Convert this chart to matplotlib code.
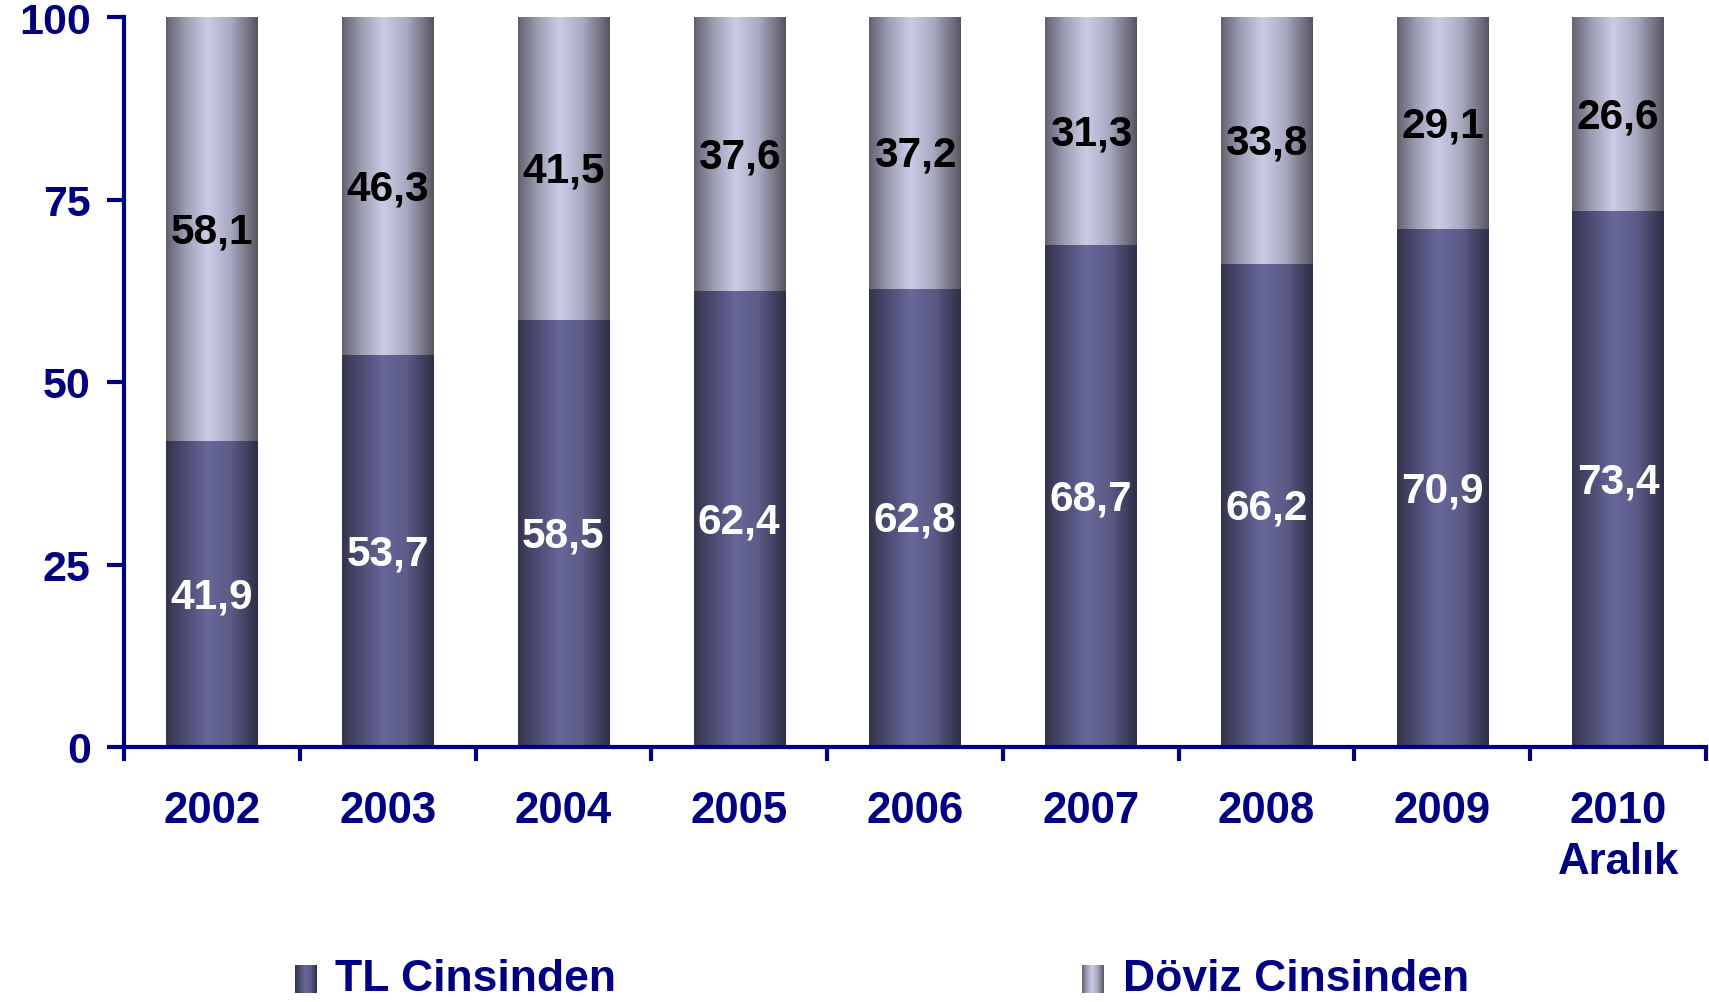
import numpy as np
import matplotlib
matplotlib.use("Agg")
import matplotlib.pyplot as plt
from matplotlib.colors import LinearSegmentedColormap

categories = ["2002", "2003", "2004", "2005", "2006", "2007", "2008", "2009", "2010\nAralık"]
tl_values = [41.9, 53.7, 58.5, 62.4, 62.8, 68.7, 66.2, 70.9, 73.4]
doviz_values = [58.1, 46.3, 41.5, 37.6, 37.2, 31.3, 33.8, 29.1, 26.6]
series_names = ["TL Cinsinden", "Döviz Cinsinden"]
yticks = [0, 25, 50, 75, 100]

NAVY = "#000080"
plt.rcParams['font.family'] = ['Liberation Sans', 'DejaVu Sans']
plt.rcParams['font.weight'] = 'bold'

cmap_tl = LinearSegmentedColormap.from_list(
    "tl", [(0.0, "#34344e"), (0.15, "#45456a"), (0.45, "#67679a"), (0.7, "#5c5c88"), (1.0, "#2e2e46")])
cmap_dv = LinearSegmentedColormap.from_list(
    "dv", [(0.0, "#62626f"), (0.2, "#9a9ab0"), (0.45, "#cccce8"), (0.7, "#a9a9c2"), (1.0, "#565662")])

fig = plt.figure(figsize=(17.09, 10.03), dpi=100)
ax = fig.add_axes([124/1709, 1-748/1003, (1706-124)/1709, (748-18)/1003])

x = np.arange(len(categories))
w = 0.52
b1 = ax.bar(x, tl_values, width=w, color="none", zorder=2)
b2 = ax.bar(x, doviz_values, bottom=tl_values, width=w, color="none", zorder=2)

grad = np.linspace(0, 1, 256).reshape(1, -1)
for bars, cm in ((b1, cmap_tl), (b2, cmap_dv)):
    for p in bars:
        x0, y0 = p.get_x(), p.get_y()
        im = ax.imshow(grad, cmap=cm, aspect='auto', interpolation='bicubic',
                       extent=(x0, x0 + p.get_width(), y0, y0 + p.get_height()), zorder=2)
        im.set_clip_path(p)

for i in range(len(categories)):
    ax.text(x[i], tl_values[i] / 2 - 0.3, f"{tl_values[i]:.1f}".replace(".", ","),
            ha='center', va='center', color='white', fontsize=30.5, fontweight='bold', zorder=3)
    ax.text(x[i], tl_values[i] + doviz_values[i] / 2 - 0.3, f"{doviz_values[i]:.1f}".replace(".", ","),
            ha='center', va='center', color='black', fontsize=30.5, fontweight='bold', zorder=3)

ax.set_xlim(-0.5, len(categories) - 0.5)
ax.set_ylim(0, 100)
ax.set_yticks(yticks)
ax.set_yticklabels([str(v) for v in yticks])
ax.set_xticks(np.arange(len(categories) + 1) - 0.5)
ax.set_xticklabels([])
ax.set_xticks(x, minor=True)
ax.set_xticklabels(categories, minor=True, fontsize=31.5, fontweight='bold', color=NAVY, linespacing=1.32)
ax.tick_params(axis='x', which='minor', length=0, pad=31)
ax.tick_params(axis='x', which='major', length=10, width=3, color=NAVY, direction='out')
ax.tick_params(axis='y', length=12, width=3, color=NAVY, direction='out', pad=12,
               labelsize=31, labelcolor=NAVY)
for lab in ax.get_yticklabels():
    lab.set_fontweight('bold')
for s in ['top', 'right']:
    ax.spines[s].set_visible(False)
for s in ['left', 'bottom']:
    ax.spines[s].set_color(NAVY)
    ax.spines[s].set_linewidth(3)
    ax.spines[s].set_zorder(4)

# legend
leg_items = [(295, 335, cmap_tl, series_names[0]), (1082, 1123, cmap_dv, series_names[1])]
for mx, tx, cm, name in leg_items:
    lax = fig.add_axes([mx/1709, 1-994/1003, 22/1709, 28/1003])
    lax.imshow(grad, cmap=cm, aspect='auto', extent=(0, 1, 0, 1))
    lax.axis('off')
    fig.text(tx/1709, 1-980/1003, name, ha='left', va='center', fontsize=32,
             fontweight='bold', color=NAVY)

fig.savefig("out.png", dpi=100)
